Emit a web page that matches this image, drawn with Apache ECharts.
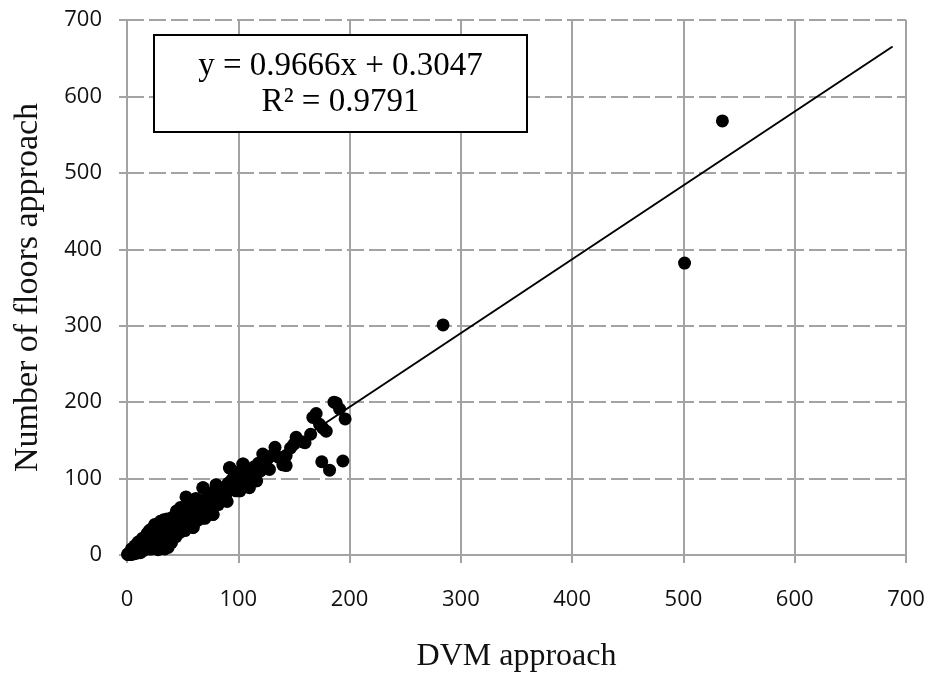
<!DOCTYPE html>
<html><head><meta charset="utf-8">
<script src="https://cdn.jsdelivr.net/npm/echarts@6/dist/echarts.min.js"></script>
<style>html,body{margin:0;padding:0;background:#fff}#c{width:932px;height:679px}</style>
</head><body><div id="c"></div>
<script>
// DVM approach (x) values
const dvm = [
0.5,1,1.5,2,2.5,3,3.5,4,4.5,5,5.5,6,6.5,7,7.5,8,8.5,9,9.5,10,
10.5,11,11.5,12,12.5,13,13.5,14,14.5,15,15.5,16,16.5,17,17.5,18,18.5,19,19.5,20,
20.5,21,21.5,22,22.5,23,23.5,24,24.5,25,25.5,26,26.5,27,27.5,28,28.5,29,29.5,30,
30.5,31,31.5,32,32.5,33,33.5,34,34.5,35,35.5,36,36.5,37,37.5,38,38.5,39,39.5,40,
40.5,41,41.5,42,42.5,43,43.5,44,44.5,45,45.5,46,46.5,47,47.5,48,48.5,49,49.5,50,
51,52,53,53.5,54,55,56,57,58,59,60,61,62,63,64,65,66,67,68,69,
70,71,72,73,74,75,76,77,78,79,80,81,82,83,84,85,86,87,88,89,
90,91,92,93,94,95,96,97,98,99,100,101,102,103,104,105,106,107,108,110,
112,114,116,118,120,122,124,126,128,130,133,136,140,143,143,147,150,152,158,160,165,
167,170,173,176,179,175,182,188,191,194,196,186,
15,22,28,37,101,
25,30,44.6,60,68.6,80,92.5,104.5,
40,50,59.6,70,77.5,90,101.5,116.5,110,
3,5,8,10,12,6,9,12,4,18,24,33,
18,20,22,24,27,30,33,36,38,14,10,7,26,31,36,40,44,48,20,25,30,
45,52,55,63,67,48,57,62,
284,501,535
];
// Number of floors approach (y) values
const floors = [
0.8,1.5,0.5,2.5,1,3.2,2,5,3,4.5,6.5,3.5,7,5,9,6,8,10.5,7,9,
12,8,14,10,11.5,16,9,13,18,12,15,20,11,17,14,22,16,19,13,24,
18,21,15,26,20,23,17,30,22,35,26,19,28,24,33,21,30,27,36,25,
32,29,38,23,35,31,40,8,33,28,42,36,30,45,34,39,27,43,37,48,
33,41,50,38,45,35,52,43,57,40,48,37,54,46,42,56,50,44,59,47,
53,45,76,58,50,61,48,55,64,36,57,52,67,60,55,70,62,58,88,66,
72,63,76,68,60,80,71,53,75,84,70,78,66,88,74,80,72,85,78,90,
82,94,114,86,98,88,102,93,84,106,97,84,110,95,119,100,92,108,102,112,
105,115,97,120,110,132,118,125,112,130,141,128,118,130,117,140,145,154,148,147,158,
180,185,171,166,162,122,111,199,191,123,178,200,
6,8,7,10,88,
40,42,57.7,72,88,92,114,119,
28,35,36,48,53,70,84,97,88,
0.5,1,2,4,3,9,13,18,8,25,32,44,
28,32,34,36,38,44,46,47,46,22,17,12,12,14,12,16,24,30,8,9,10,
28,32,38,45,48,62,68,74,
301,382,568
];
const xTicks = [0,100,200,300,400,500,600,700];
const yTicks = [0,100,200,300,400,500,600,700];
const slope = 0.9666, intercept = 0.3047, rSquared = 0.9791;
const trendRange = [0, 688];

const pts = dvm.map((x,i)=>[x, floors[i]]);
const trend = trendRange.map(x=>[x, slope*x+intercept]);
const gray = '#a3a3a3';
const chart = echarts.init(document.getElementById('c'));
const axisCommon = {
  type:'value', min:xTicks[0], max:xTicks[xTicks.length-1], interval:xTicks[1]-xTicks[0],
  axisLine:{show:true, onZero:false, lineStyle:{color:gray, width:2}},
  axisTick:{show:true, inside:false, length:8, lineStyle:{color:gray, width:2}},
  axisLabel:{color:'#111', fontFamily:'Open Sans', fontSize:22},
  nameLocation:'middle',
  nameTextStyle:{fontFamily:'Liberation Serif', fontSize:32, color:'#111'}
};
chart.setOption({
  animation:false,
  backgroundColor:'#fff',
  grid:{left:127, right:26, top:20, bottom:124, containLabel:false},
  xAxis:Object.assign({}, axisCommon, {
    name:'DVM approach', nameGap:86,
    axisLabel:Object.assign({}, axisCommon.axisLabel, {margin:34}),
    splitLine:{show:true, lineStyle:{color:gray, width:2, type:'solid'}}
  }),
  yAxis:Object.assign({}, axisCommon, {
    min:yTicks[0], max:yTicks[yTicks.length-1], interval:yTicks[1]-yTicks[0],
    name:'Number of floors approach', nameGap:82,
    nameTextStyle:{fontFamily:'Liberation Serif', fontSize:34, color:'#111'},
    axisLabel:Object.assign({}, axisCommon.axisLabel, {margin:25}),
    splitLine:{show:true, lineStyle:{color:gray, width:2, type:[17,5]}}
  }),
  series:[
    {type:'scatter', data:pts, symbolSize:13, itemStyle:{color:'#000', opacity:1}, z:3},
    {type:'line', data:trend, showSymbol:false, symbol:'none', lineStyle:{color:'#000', width:2}, z:4}
  ],
  graphic:[
    {type:'rect', x:154, y:35, shape:{x:0, y:0, width:373, height:97}, style:{fill:'#fff', stroke:'#000', lineWidth:2}, z:10},
    {type:'text', x:340.5, y:66, style:{text:'y = '+slope.toFixed(4)+'x + '+intercept.toFixed(4), fontFamily:'Liberation Serif', fontSize:33, fill:'#000', align:'center', verticalAlign:'middle'}, z:11},
    {type:'text', x:340.5, y:102, style:{text:'R² = '+rSquared.toFixed(4), fontFamily:'Liberation Serif', fontSize:33, fill:'#000', align:'center', verticalAlign:'middle'}, z:11}
  ]
});
</script></body></html>
